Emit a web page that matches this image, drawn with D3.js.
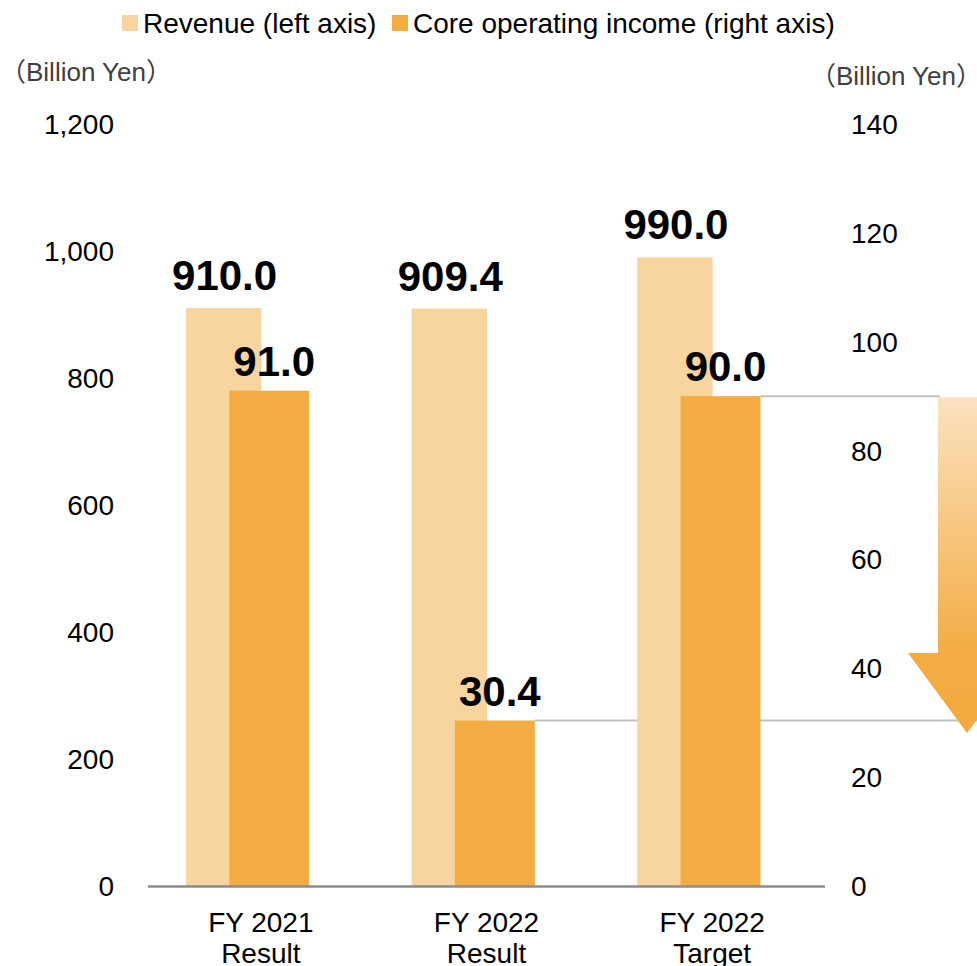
<!DOCTYPE html>
<html lang="en">
<head>
  <meta charset="utf-8">
  <script src="https://d3js.org/d3.v7.min.js"></script>
  <style>
    body { margin: 0; background: #fff; }
    text { font-family: "Liberation Sans", Arial, sans-serif; }
    .tick-label { font-size: 28px; fill: #000; }
    .unit { font-size: 26px; fill: #404040; font-family: "Liberation Sans", "Noto Sans CJK JP", sans-serif; }
    .legend { font-size: 28px; fill: #000; }
    .value { font-size: 42px; font-weight: bold; fill: #000; }
    .cat { font-size: 28px; fill: #000; }
  </style>
</head>
<body>
<script>
  var categories = [["FY 2021", "Result"], ["FY 2022", "Result"], ["FY 2022", "Target"]];
  var revenue = [910.0, 909.4, 990.0];
  var income = [91.0, 30.4, 90.0];
  var leftTicks = [0, 200, 400, 600, 800, 1000, 1200];
  var rightTicks = [0, 20, 40, 60, 80, 100, 120, 140];

  var w = 977, h = 966;
  var revColor = "#f8d49e", incColor = "#f3ac41";

  var svg = d3.select("body").append("svg")
    .attr("width", w).attr("height", h);

  var x = d3.scaleBand().domain(d3.range(categories.length)).range([148, 825]).padding(0);
  var bw = x.bandwidth();
  var yL = d3.scaleLinear().domain([0, 1200]).range([886, 124]);
  var yR = d3.scaleLinear().domain([0, 140]).range([886, 124]);

  var revX = function (i) { return x(i) + bw * 0.168; }, revW = bw * 0.334;
  var incX = function (i) { return x(i) + bw * 0.36; }, incW = bw * 0.354;

  // gradient for the arrow
  var defs = svg.append("defs");
  var grad = defs.append("linearGradient").attr("id", "arrowGrad")
    .attr("x1", 0).attr("y1", 0).attr("x2", 0).attr("y2", 1);
  grad.append("stop").attr("offset", "0%").attr("stop-color", "#fbe2c0");
  grad.append("stop").attr("offset", "75%").attr("stop-color", "#f3ad45");
  grad.append("stop").attr("offset", "100%").attr("stop-color", "#f2a93c");

  // legend
  var legend = [["Revenue (left axis)", revColor, 122], ["Core operating income (right axis)", incColor, 392]];
  legend.forEach(function (l) {
    svg.append("rect").attr("x", l[2]).attr("y", 15).attr("width", 16).attr("height", 16).attr("fill", l[1]);
    svg.append("text").attr("class", "legend").attr("x", l[2] + 21).attr("y", 33).text(l[0]);
  });

  // unit labels
  svg.append("text").attr("class", "unit").attr("x", 0).attr("y", 81).text("（Billion Yen）");
  svg.append("text").attr("class", "unit").attr("x", 810).attr("y", 85).text("（Billion Yen）");

  // left ticks
  svg.selectAll("text.lt").data(leftTicks).enter().append("text")
    .attr("class", "tick-label lt")
    .attr("x", 114).attr("y", function (d) { return yL(d) + 10; })
    .attr("text-anchor", "end")
    .text(function (d) { return d3.format(",")(d); });

  // right ticks
  svg.selectAll("text.rt").data(rightTicks).enter().append("text")
    .attr("class", "tick-label rt")
    .attr("x", 851).attr("y", function (d) { return yR(d) + 10; })
    .text(function (d) { return d; });

  // connector lines
  var last = income.length - 1;
  svg.append("line")
    .attr("x1", incX(last) + incW).attr("x2", 940)
    .attr("y1", yR(income[last])).attr("y2", yR(income[last]))
    .attr("stroke", "#c0c0c0").attr("stroke-width", 2);
  svg.append("line")
    .attr("x1", incX(1) + incW).attr("x2", w)
    .attr("y1", yR(income[1])).attr("y2", yR(income[1]))
    .attr("stroke", "#c0c0c0").attr("stroke-width", 2);

  // revenue bars
  svg.selectAll("rect.rev").data(revenue).enter().append("rect")
    .attr("class", "rev")
    .attr("x", function (d, i) { return revX(i); })
    .attr("width", revW)
    .attr("y", function (d) { return yL(d); })
    .attr("height", function (d) { return yL(0) - yL(d); })
    .attr("fill", revColor);

  // income bars
  svg.selectAll("rect.inc").data(income).enter().append("rect")
    .attr("class", "inc")
    .attr("x", function (d, i) { return incX(i); })
    .attr("width", incW)
    .attr("y", function (d) { return yR(d); })
    .attr("height", function (d) { return yR(0) - yR(d); })
    .attr("fill", incColor);

  // baseline
  svg.append("line").attr("x1", 148).attr("x2", 825)
    .attr("y1", 886.5).attr("y2", 886.5)
    .attr("stroke", "#8c8c8c").attr("stroke-width", 2.5);

  // value labels
  svg.selectAll("text.rv").data(revenue).enter().append("text")
    .attr("class", "value rv")
    .attr("text-anchor", "middle")
    .attr("x", function (d, i) { return revX(i) + revW / 2 + 1; })
    .attr("y", function (d) { return yL(d) - 18; })
    .text(function (d) { return d.toFixed(1); });

  svg.selectAll("text.iv").data(income).enter().append("text")
    .attr("class", "value iv")
    .attr("text-anchor", "middle")
    .attr("x", function (d, i) { return incX(i) + incW / 2 + 5; })
    .attr("y", function (d) { return yR(d) - 15; })
    .text(function (d) { return d.toFixed(1); });

  // category labels
  categories.forEach(function (c, i) {
    var cx = x(i) + bw / 2;
    svg.append("text").attr("class", "cat").attr("text-anchor", "middle")
      .attr("x", cx).attr("y", 932).text(c[0]);
    svg.append("text").attr("class", "cat").attr("text-anchor", "middle")
      .attr("x", cx).attr("y", 963).text(c[1]);
  });

  // downward arrow from target to result
  var arrowTop = yR(income[last]) + 1, headTop = 653, tipY = 733, arrowCx = 967;
  var arrow = [
    [arrowCx - 29, arrowTop], [arrowCx + 29, arrowTop], [arrowCx + 29, headTop], [arrowCx + 59, headTop],
    [arrowCx, tipY], [arrowCx - 59, headTop], [arrowCx - 29, headTop]
  ];
  svg.append("path")
    .attr("d", d3.line()(arrow) + "Z")
    .attr("fill", "url(#arrowGrad)");
</script>
</body>
</html>
